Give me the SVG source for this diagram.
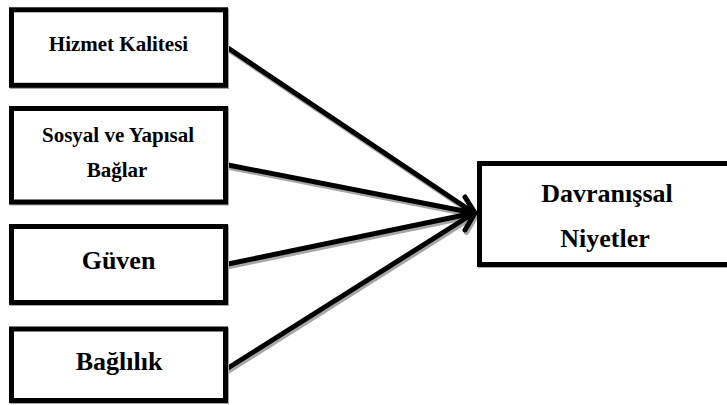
<svg xmlns="http://www.w3.org/2000/svg" width="727" height="405" viewBox="0 0 727 405">
  <style>
    .box { fill: #ffffff; stroke: #000000; stroke-width: 5; }
    .shadow { fill: none; stroke: #a6a6a6; stroke-width: 5; }
    .lbl { font-weight: bold; fill: #000000; text-anchor: middle; }
    .sm { font-size: 21px; }
    .lg { font-size: 26px; }
    .edge { fill: none; stroke: #000000; stroke-width: 5; stroke-linecap: round; stroke-linejoin: round; }
    .edge-sh { fill: none; stroke: #a6a6a6; stroke-width: 5; stroke-linecap: round; stroke-linejoin: round; }
  </style>
  <rect width="727" height="405" fill="#ffffff"/>

  <!-- connectors -->
  <g id="connectors">
    <g transform="translate(1.5,2.5)">
      <path class="edge-sh" d="M228,48 L474,213"/>
      <path class="edge-sh" d="M228,165 L474,213"/>
      <path class="edge-sh" d="M228,264 L474,213"/>
      <path class="edge-sh" d="M228,368 L474,213"/>
      <path class="edge-sh" d="M465,197 L475,213 L465,230"/>
    </g>
    <path class="edge" d="M228,48 L474,213"/>
    <path class="edge" d="M228,165 L474,213"/>
    <path class="edge" d="M228,264 L474,213"/>
    <path class="edge" d="M228,368 L474,213"/>
    <path class="edge" d="M465,197 L475,213 L465,230"/>
  </g>

  <g font-family="Liberation Serif, DejaVu Serif, serif">
    <g id="hizmet-kalitesi">
      <rect class="shadow" x="12.5" y="11" width="214" height="75.5"/>
      <rect class="box" x="11.5" y="9.8" width="214" height="75.5"/>
      <text class="lbl sm" x="118.5" y="51">Hizmet Kalitesi</text>
    </g>

    <g id="sosyal-yapisal">
      <rect class="shadow" x="12.5" y="109.5" width="214" height="93.5"/>
      <rect class="box" x="11.5" y="108.5" width="214" height="93.5"/>
      <text class="lbl sm" x="118" y="141.5">Sosyal ve Yapısal</text>
      <text class="lbl sm" x="117" y="177">Bağlar</text>
    </g>

    <g id="guven">
      <rect class="shadow" x="12.5" y="227.5" width="214" height="76"/>
      <rect class="box" x="11.5" y="226.5" width="214" height="76"/>
      <text class="lbl lg" x="118.5" y="268.5">Güven</text>
    </g>

    <g id="baglilik">
      <rect class="shadow" x="12.5" y="330" width="214" height="71.5"/>
      <rect class="box" x="11.5" y="329" width="214" height="71.5"/>
      <text class="lbl lg" x="119" y="369.5">Bağlılık</text>
    </g>

    <g id="davranissal-niyetler">
      <rect class="shadow" x="480.5" y="164.5" width="260" height="101"/>
      <rect class="box" x="479.5" y="163.5" width="260" height="101"/>
      <text class="lbl lg" x="607" y="201.5">Davranışsal</text>
      <text class="lbl lg" x="605" y="246.5">Niyetler</text>
    </g>
  </g>
</svg>
